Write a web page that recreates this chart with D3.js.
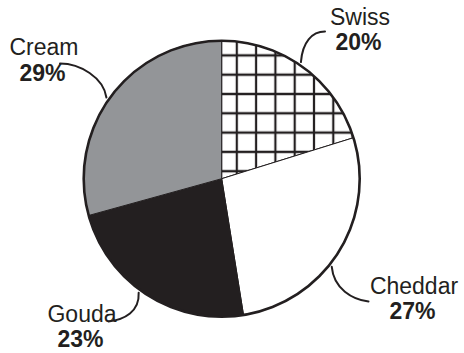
<!DOCTYPE html>
<html>
<head>
<meta charset="utf-8">
<script src="https://cdn.jsdelivr.net/npm/d3@7"></script>
<style>
  html, body { margin: 0; padding: 0; background: #fff; }
  svg { display: block; }
  text { font-family: "Liberation Sans", Arial, Helvetica, sans-serif; fill: #231f20; }
</style>
</head>
<body>
<svg id="chart" width="464" height="353"></svg>
<script>
// Cheese shares (percent), clockwise from 12 o'clock
const categories = ["Swiss", "Cheddar", "Gouda", "Cream"];
const shares = [20, 27, 23, 29];

// Slice fills: crosshatch grid, white, near-black, grey
const fills = ["url(#crosshatch)", "#ffffff", "#231f20", "#939598"];

// Label placement: text centre x, first baseline y, where along the slice the leader touches,
// and the leader's end point / control offsets
const labelX = [360, 414, 82, 44];
const labelY = [24.5, 293.5, 321.5, 55];
const anchorFrac = [0.47, 0.57, 0.54, 0.48];
const leaderEnd = [[325, 31.5], [368.5, 301.5], [108.5, 321.5], [60, 63.5]];
const leaderC1 = [[1.5, -20], [2, 22], [1, 19], [-3, -20]];
const leaderC2 = [[-13, 0], [-16, -2], [16, -2], [20, 0]];

const width = 464, height = 353;
const cx = 221.7, cy = 178.7, R = 138;
const ink = "#231f20";

const svg = d3.select("#chart");

// Crosshatch pattern for the Swiss slice
const step = 19.3;
const defs = svg.append("defs");
const pat = defs.append("pattern")
  .attr("id", "crosshatch")
  .attr("patternUnits", "userSpaceOnUse")
  .attr("width", step).attr("height", step)
  .attr("x", 227.4 - step / 2).attr("y", 50.4 - step / 2);
pat.append("rect").attr("width", step).attr("height", step).attr("fill", "#fff");
pat.append("path")
  .attr("d", `M${step / 2},0V${step}M0,${step / 2}H${step}`)
  .attr("stroke", ink).attr("stroke-width", 2.2).attr("fill", "none");

const pie = d3.pie().sort(null).value(d => d);
const arcs = pie(shares);
const arc = d3.arc().innerRadius(0).outerRadius(R);

const g = svg.append("g").attr("transform", `translate(${cx},${cy})`);

g.selectAll("path.slice")
  .data(arcs)
  .join("path")
  .attr("class", "slice")
  .attr("d", arc)
  .attr("fill", (d, i) => fills[i])
  .attr("stroke", ink)
  .attr("stroke-width", 1)
  .attr("stroke-linejoin", "round");

// Outer rim
g.append("path")
  .attr("d", d3.arc().innerRadius(R).outerRadius(R).startAngle(0).endAngle(2 * Math.PI)())
  .attr("fill", "none")
  .attr("stroke", ink)
  .attr("stroke-width", 2.6);

// Leader lines from each slice edge to its label
const rimPoint = (a, r) => [cx + r * Math.sin(a), cy - r * Math.cos(a)];
arcs.forEach((d, i) => {
  const a = d.startAngle + (d.endAngle - d.startAngle) * anchorFrac[i];
  const [sx, sy] = rimPoint(a, R + 3);
  const [ex, ey] = leaderEnd[i];
  const p = d3.path();
  p.moveTo(sx, sy);
  p.bezierCurveTo(sx + leaderC1[i][0], sy + leaderC1[i][1],
                  ex + leaderC2[i][0], ey + leaderC2[i][1], ex, ey);
  svg.append("path")
    .attr("d", p.toString())
    .attr("fill", "none")
    .attr("stroke", ink)
    .attr("stroke-width", 2)
    .attr("stroke-linecap", "round");
});

// Category names and percentages
const labels = svg.append("g").attr("text-anchor", "middle").attr("font-size", 23);
categories.forEach((c, i) => {
  labels.append("text")
    .attr("x", labelX[i]).attr("y", labelY[i])
    .text(c);
  labels.append("text")
    .attr("x", labelX[i] - 1.5).attr("y", labelY[i] + 25.5)
    .attr("font-weight", "bold")
    .text(shares[i] + "%");
});
</script>
</body>
</html>
